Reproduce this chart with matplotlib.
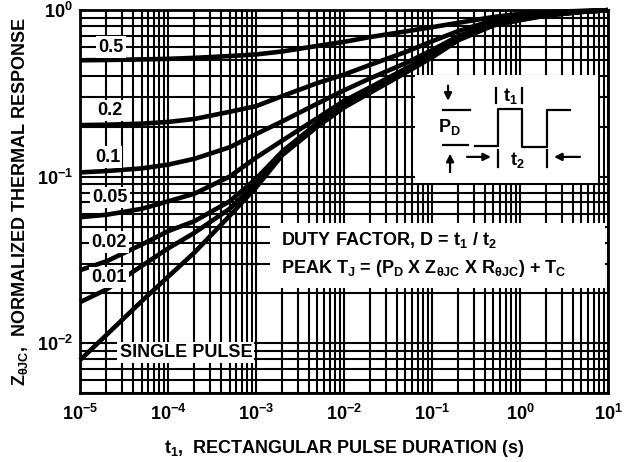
import matplotlib
matplotlib.use("Agg")
import matplotlib.pyplot as plt
import numpy as np
from matplotlib.patches import Rectangle
from matplotlib.ticker import LogLocator, NullFormatter

plt.rcParams["font.family"] = ["Liberation Sans", "DejaVu Sans"]
plt.rcParams["font.weight"] = "bold"
plt.rcParams["mathtext.default"] = "regular"

# pulse duration (s)
t_pulse = [1e-5, 2e-5, 5e-5, 1e-4, 2e-4, 5e-4, 1e-3, 2e-3, 5e-3, 1e-2,
           2e-2, 5e-2, 0.1, 0.2, 0.5, 1, 2, 5, 10]

# normalized thermal response per duty factor
z_d50 = [0.50, 0.502, 0.506, 0.51, 0.517, 0.53, 0.542, 0.565, 0.61, 0.645,
         0.69, 0.745, 0.79, 0.84, 0.91, 0.95, 0.975, 0.99, 1.0]
z_d20 = [0.204, 0.205, 0.208, 0.213, 0.222, 0.245, 0.265, 0.305, 0.365, 0.41,
         0.47, 0.56, 0.65, 0.75, 0.87, 0.92, 0.96, 0.985, 1.0]
z_d10 = [0.106, 0.108, 0.112, 0.118, 0.128, 0.150, 0.18, 0.215, 0.275, 0.33,
         0.39, 0.48, 0.575, 0.70, 0.84, 0.89, 0.945, 0.98, 1.0]
z_d05 = [0.057, 0.059, 0.064, 0.071, 0.079, 0.100, 0.13, 0.165, 0.225, 0.285,
         0.345, 0.445, 0.545, 0.68, 0.83, 0.885, 0.94, 0.98, 1.0]
z_d02 = [0.0274, 0.031, 0.039, 0.047, 0.054, 0.071, 0.097, 0.142, 0.21, 0.27,
         0.33, 0.43, 0.53, 0.67, 0.82, 0.88, 0.935, 0.978, 1.0]
z_d01 = [0.0176, 0.021, 0.029, 0.037, 0.046, 0.064, 0.091, 0.138, 0.205, 0.265,
         0.325, 0.425, 0.525, 0.665, 0.815, 0.875, 0.93, 0.975, 1.0]
z_single = [0.0079, 0.0112, 0.0178, 0.025, 0.035, 0.058, 0.086, 0.135, 0.20, 0.26,
            0.32, 0.42, 0.52, 0.66, 0.81, 0.87, 0.93, 0.975, 1.0]

curves = [z_d50, z_d20, z_d10, z_d05, z_d02, z_d01, z_single]

# curve labels and where they sit (t, Z)
curve_labels = ["0.5", "0.2", "0.1", "0.05", "0.02", "0.01", "SINGLE PULSE"]
label_t = [2.25e-5, 2.2e-5, 2.05e-5, 2.2e-5, 2.15e-5, 2.15e-5, 1.6e-4]
label_z = [0.60, 0.25, 0.131, 0.075, 0.0404, 0.0248, 0.0088]

x_ticks = [1e-5, 1e-4, 1e-3, 1e-2, 1e-1, 1e0, 1e1]
x_ticklabels = [r"$10^{-5}$", r"$10^{-4}$", r"$10^{-3}$", r"$10^{-2}$",
                r"$10^{-1}$", r"$10^{0}$", r"$10^{1}$"]
y_ticks = [1e-2, 1e-1, 1e0]
y_ticklabels = [r"$10^{-2}$", r"$10^{-1}$", r"$10^{0}$"]

FS = 13

fig = plt.figure(figsize=(6.3, 4.62), dpi=100)
ax = fig.add_axes([0.127, 0.149, 0.838, 0.829])
ax.set_xscale("log")
ax.set_yscale("log")
ax.set_xlim(1e-5, 10)
ax.set_ylim(0.005, 1.0)

ax.xaxis.set_minor_locator(LogLocator(base=10, subs=np.arange(2, 10), numticks=100))
ax.yaxis.set_minor_locator(LogLocator(base=10, subs=np.arange(2, 10), numticks=100))
ax.xaxis.set_minor_formatter(NullFormatter())
ax.yaxis.set_minor_formatter(NullFormatter())
ax.grid(which="both", color="black", linewidth=1.5)
ax.set_axisbelow(True)

ax.set_xticks(x_ticks)
ax.set_xticklabels(x_ticklabels, fontsize=FS, fontweight="bold")
ax.set_yticks(y_ticks)
ax.set_yticklabels(y_ticklabels, fontsize=FS, fontweight="bold")
ax.tick_params(which="both", length=0)
ax.tick_params(axis="x", pad=8)
ax.tick_params(axis="y", pad=5)
for sp in ax.spines.values():
    sp.set_linewidth(2.0)
    sp.set_zorder(6)

for z in curves:
    ax.plot(t_pulse, z, color="black", linewidth=3.3, solid_capstyle="butt",
            zorder=4, clip_on=False)

for txt, tx, tz in zip(curve_labels, label_t, label_z):
    ax.text(tx, tz, txt, fontsize=FS, fontweight="bold", ha="center", va="center",
            zorder=5, bbox=dict(facecolor="white", edgecolor="none", pad=1.5))

# white panel holding the duty factor notes
ax.add_patch(Rectangle((0.360, 0.274), 0.634, 0.170, transform=ax.transAxes,
                       facecolor="white", edgecolor="none", zorder=3))
ax.text(0.381, 0.401, r"DUTY FACTOR, D = t$_1$ / t$_2$", transform=ax.transAxes,
        fontsize=FS, fontweight="bold", va="center", zorder=5)
ax.text(0.381, 0.325, r"PEAK T$_J$ = (P$_D$ X Z$_{\theta JC}$ X R$_{\theta JC}$) + T$_C$",
        transform=ax.transAxes, fontsize=FS, fontweight="bold", va="center", zorder=5)

ax.set_xlabel(r"t$_1$,  RECTANGULAR PULSE DURATION (s)", fontsize=FS,
              fontweight="bold", labelpad=10)
ax.set_ylabel(r"Z$_{\theta JC}$,  NORMALIZED THERMAL RESPONSE", fontsize=FS,
              fontweight="bold", labelpad=5)

# pulse sketch inset
ins = fig.add_axes([0.659, 0.604, 0.290, 0.234])
ins.set_xlim(0, 1)
ins.set_ylim(0, 1)
ins.set_facecolor("white")
ins.set_xticks([])
ins.set_yticks([])
for sp in ins.spines.values():
    sp.set_visible(False)
ins.set_zorder(5)

lw = 1.6
wave_u = [0.328, 0.454, 0.454, 0.585, 0.585, 0.721, 0.721, 0.847]
wave_v = [0.343, 0.343, 0.685, 0.685, 0.333, 0.333, 0.676, 0.676]
ins.plot(wave_u, wave_v, color="black", linewidth=lw)
ins.plot([0.153, 0.301], [0.676, 0.676], color="black", linewidth=lw)
ins.plot([0.153, 0.290], [0.352, 0.352], color="black", linewidth=lw)
arrow = dict(arrowstyle="-|>", color="black", linewidth=lw, mutation_scale=11,
             shrinkA=0, shrinkB=0)
ins.annotate("", xy=(0.180, 0.76), xytext=(0.180, 0.90), arrowprops=arrow)
ins.annotate("", xy=(0.191, 0.27), xytext=(0.191, 0.10), arrowprops=arrow)
ins.annotate("", xy=(0.415, 0.241), xytext=(0.284, 0.241), arrowprops=arrow)
ins.annotate("", xy=(0.760, 0.241), xytext=(0.902, 0.241), arrowprops=arrow)
for u in [0.443, 0.585]:
    ins.plot([u, u], [0.741, 0.880], color="black", linewidth=lw)
for u in [0.454, 0.721]:
    ins.plot([u, u], [0.148, 0.306], color="black", linewidth=lw)
ins.text(0.186, 0.52, r"P$_D$", fontsize=FS, fontweight="bold", ha="center", va="center")
ins.text(0.519, 0.80, r"t$_1$", fontsize=FS, fontweight="bold", ha="center", va="center")
ins.text(0.557, 0.21, r"t$_2$", fontsize=FS, fontweight="bold", ha="center", va="center")

fig.savefig("out.png", dpi=100)
